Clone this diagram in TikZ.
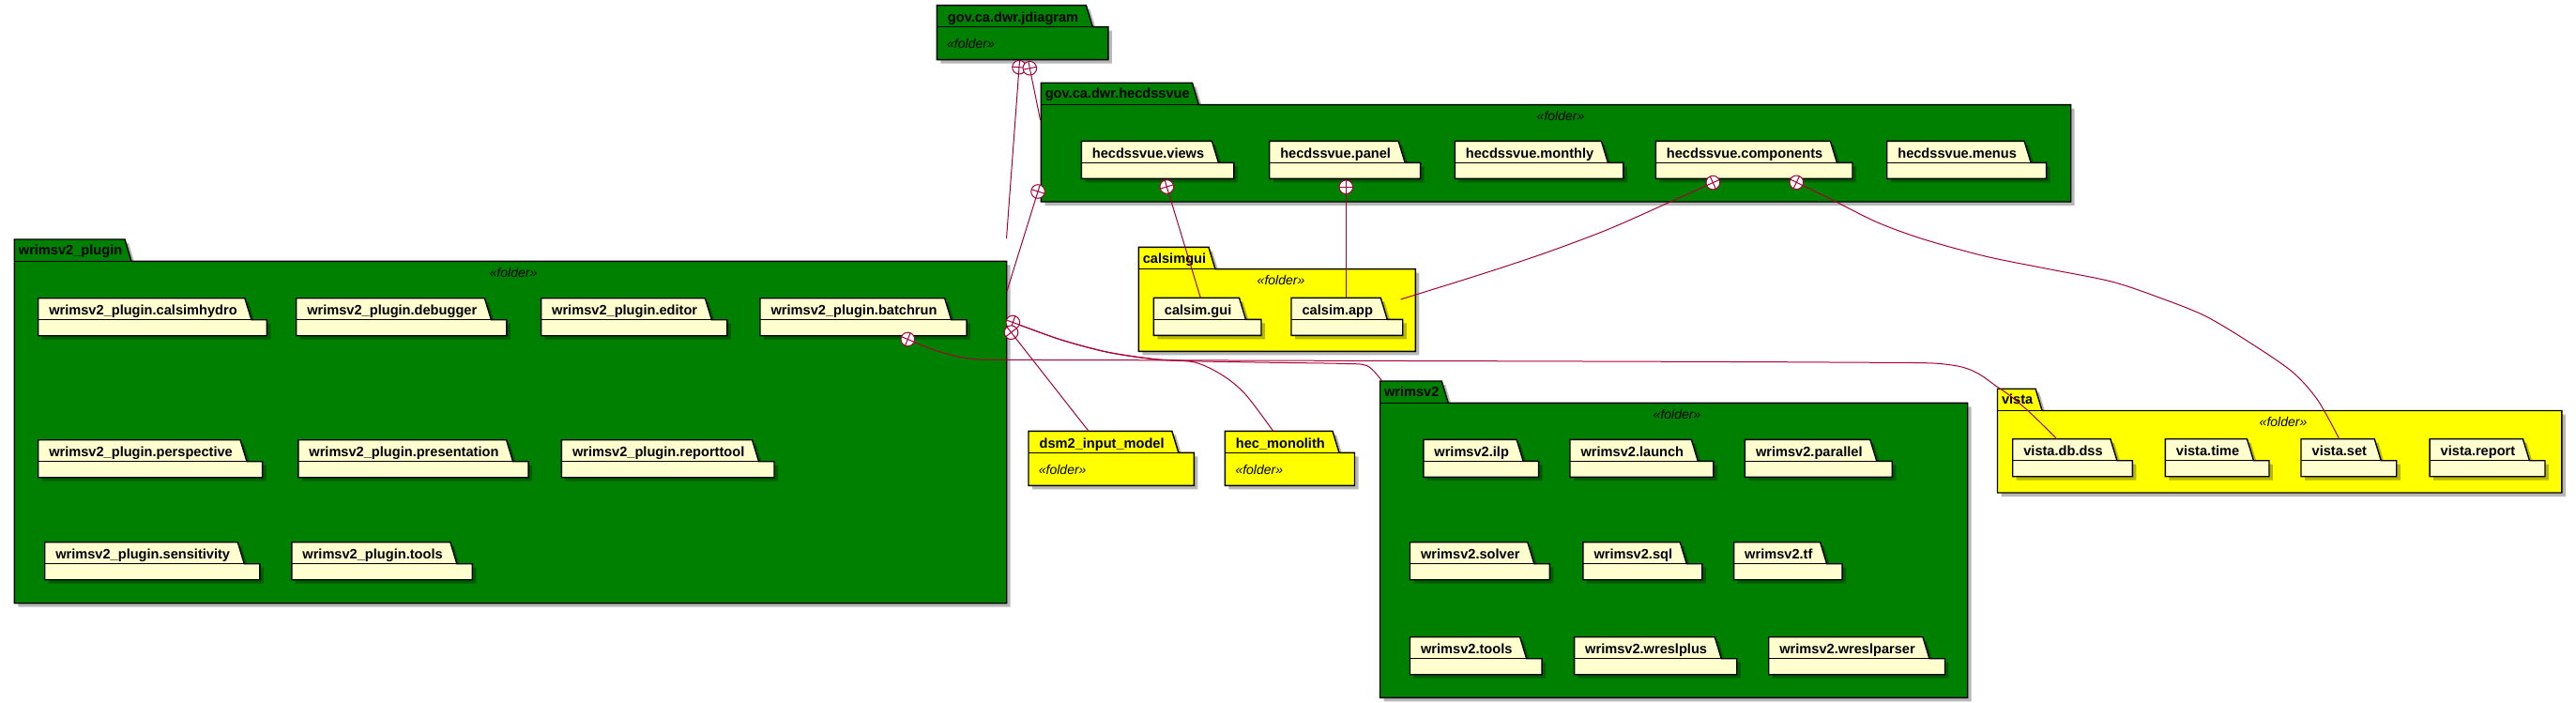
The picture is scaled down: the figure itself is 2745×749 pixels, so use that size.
\documentclass[tikz,border=0pt]{standalone}
\usepackage{fontspec}
\setmainfont{Liberation Sans}
\usetikzlibrary{calc}
\definecolor{pgreen}{HTML}{008000}
\definecolor{pyellow}{HTML}{FFFF00}
\definecolor{pinner}{HTML}{FEFECE}
\definecolor{crim}{HTML}{A80036}
\newlength\pkgw
\newcommand\pkgfont{\fontsize{14.6}{17}\selectfont\bfseries}
\newcommand\stfont{\fontsize{14}{16}\selectfont\itshape}
\newcommand\measurepkg[1]{%
  \pgfinterruptpicture\settowidth\pkgw{\normalfont\pkgfont #1}\global\pkgw=\pkgw\endpgfinterruptpicture}
\tikzset{
  pkgline/.style={draw=black, line width=1.4pt, line join=miter},
  pkgshadow/.style={fill=black, opacity=0.28},
  pkgtxt/.style={inner sep=0pt, font=\pkgfont, text=black},
  sttxt/.style={inner sep=0pt, font=\stfont, text=black},
  conn/.style={draw=crim, line width=1pt},
  pbox/.style={inner sep=0pt, outer sep=0pt, draw=none, anchor=north west},
}
% #1 x, #2 tab top, #3 tab right, #4 tab height, #5 right, #6 bottom, #7 fill
\newcommand\pkgshape[7]{%
  \fill[pkgshadow] (#1+4,#2+4) -- (#3+4,#2+4) -- (#3+11,#2+#4+4) -- (#5+4,#2+#4+4) -- (#5+4,#6+4) -- (#1+4,#6+4) -- cycle;
  \draw[pkgline, fill=#7] (#1,#2) -- (#3,#2) -- (#3+7,#2+#4) -- (#5,#2+#4) -- (#5,#6) -- (#1,#6) -- cycle;
  \draw[pkgline] (#1,#2+#4) -- (#3+7,#2+#4);
}
% leaf package: #1 name, #2 x, #3 tab top, #4 extra height, #5 fill, #6 label
\newcommand\leafpkg[6]{%
  \measurepkg{#6}%
  \pgfmathsetmacro\tR{#2+19.8+\pkgw}%
  \pgfmathsetmacro\bR{\tR+23.5}%
  \pgfmathsetmacro\bB{#3+40+#4}%
  \pkgshape{#2}{#3}{\tR}{23}{\bR}{\bB}{#5}
  \node[pkgtxt, anchor=base west] (#1-t) at (#2+11.4,#3+17.8) {#6};
  \node[pbox, minimum width={(\bR-#2)*1pt}, minimum height={(\bB-#3)*1pt}] (#1) at (#2,#3) {};
}
% container package: #1 name, #2 x, #3 tab top, #4 right, #5 bottom, #6 fill, #7 label, #8 stereotype centre x
\newcommand\contpkg[8]{%
  \measurepkg{#7}%
  \pgfmathsetmacro\tR{#2+7.3+\pkgw}%
  \pkgshape{#2}{#3}{\tR}{23.3}{#4}{#5}{#6}
  \node[pkgtxt, anchor=base west] (#1-t) at (#2+4.3,#3+16.7) {#7};
  \node[sttxt, anchor=base] (#1-st) at (#8,#3+23.3+17) {«folder»};
  \node[pbox, minimum width={(#4-#2)*1pt}, minimum height={(#5-#3)*1pt}] (#1) at (#2,#3) {};
}
% nesting circle: #1 centre, #2 direction angle
\newcommand\pcirc[2]{%
  \draw[conn, fill=white] (#1) circle (7.3);
  \draw[conn] ($(#1)+(#2:7.3)$) -- ($(#1)+(#2+180:7.3)$);
  \draw[conn] ($(#1)+(#2+90:7.3)$) -- ($(#1)+(#2+270:7.3)$);
}
\begin{document}
\begin{tikzpicture}[x=1pt,y=-1pt]
\fill[white] (0,0) rectangle (2745,749);
\useasboundingbox (0,0) rectangle (2745,749);

% containers
\contpkg{hecdssvue}{1109.3}{88.3}{2206.7}{215}{pgreen}{gov.ca.dwr.hecdssvue}{1663}
\contpkg{plugin}{15.4}{255}{1072.7}{642.7}{pgreen}{wrimsv2\_plugin}{547}
\contpkg{calsimgui}{1213.3}{263.3}{1508.3}{374.3}{pyellow}{calsimgui}{1365}
\contpkg{wrimsv2}{1470.5}{406}{2096.7}{743.3}{pgreen}{wrimsv2}{1787}
\contpkg{vista}{2128.5}{414.2}{2729.8}{525}{pyellow}{vista}{2433}

% stand-alone folders
\leafpkg{jdiagram}{998.3}{5.7}{18}{pgreen}{gov.ca.dwr.jdiagram}
\node[sttxt, anchor=base west] (jdiagram-st) at (1009,51.5) {«folder»};
\leafpkg{dsm2}{1096}{459.3}{18}{pyellow}{dsm2\_input\_model}
\node[sttxt, anchor=base west] (dsm2-st) at (1106.7,505) {«folder»};
\leafpkg{hecmono}{1305.3}{459.3}{18}{pyellow}{hec\_monolith}
\node[sttxt, anchor=base west] (hecmono-st) at (1316.3,505) {«folder»};

% hecdssvue children
\leafpkg{views}{1152.3}{150.3}{0}{pinner}{hecdssvue.views}
\leafpkg{panel}{1352.7}{150.3}{0}{pinner}{hecdssvue.panel}
\leafpkg{monthly}{1550.3}{150.3}{0}{pinner}{hecdssvue.monthly}
\leafpkg{components}{1764.3}{150.3}{0}{pinner}{hecdssvue.components}
\leafpkg{menus}{2010.7}{150.3}{0}{pinner}{hecdssvue.menus}

% calsimgui children
\leafpkg{calgui}{1229.3}{317.3}{0}{pinner}{calsim.gui}
\leafpkg{calapp}{1376}{317.3}{0}{pinner}{calsim.app}

% wrimsv2_plugin children
\leafpkg{calsimhydro}{40.7}{317.7}{0}{pinner}{wrimsv2\_plugin.calsimhydro}
\leafpkg{debugger}{315.7}{317.7}{0}{pinner}{wrimsv2\_plugin.debugger}
\leafpkg{editor}{576.6}{317.7}{0}{pinner}{wrimsv2\_plugin.editor}
\leafpkg{batchrun}{810}{317.7}{0}{pinner}{wrimsv2\_plugin.batchrun}
\leafpkg{perspective}{40.7}{468.7}{0}{pinner}{wrimsv2\_plugin.perspective}
\leafpkg{presentation}{317.8}{468.7}{0}{pinner}{wrimsv2\_plugin.presentation}
\leafpkg{reporttool}{598.4}{468.7}{0}{pinner}{wrimsv2\_plugin.reporttool}
\leafpkg{sensitivity}{47.7}{577.7}{0}{pinner}{wrimsv2\_plugin.sensitivity}
\leafpkg{ptools}{310.8}{577.7}{0}{pinner}{wrimsv2\_plugin.tools}

% wrimsv2 children
\leafpkg{ilp}{1516.8}{468.3}{0}{pinner}{wrimsv2.ilp}
\leafpkg{launch}{1673}{468.3}{0}{pinner}{wrimsv2.launch}
\leafpkg{parallel}{1859.4}{468.3}{0}{pinner}{wrimsv2.parallel}
\leafpkg{solver}{1502.5}{577.7}{0}{pinner}{wrimsv2.solver}
\leafpkg{sql}{1686.9}{577.7}{0}{pinner}{wrimsv2.sql}
\leafpkg{tf}{1847.6}{577.7}{0}{pinner}{wrimsv2.tf}
\leafpkg{wtools}{1502.5}{678.7}{0}{pinner}{wrimsv2.tools}
\leafpkg{wreslplus}{1677.6}{678.7}{0}{pinner}{wrimsv2.wreslplus}
\leafpkg{wreslparser}{1884.7}{678.7}{0}{pinner}{wrimsv2.wreslparser}

% vista children
\leafpkg{dbdss}{2144.7}{467.7}{0}{pinner}{vista.db.dss}
\leafpkg{vtime}{2307.3}{467.7}{0}{pinner}{vista.time}
\leafpkg{vset}{2452}{467.7}{0}{pinner}{vista.set}
\leafpkg{vreport}{2589.1}{467.7}{0}{pinner}{vista.report}

% connector end points
\coordinate (jA) at (1086,71.7);      \coordinate (jAend) at (1072.5,254);
\coordinate (jB) at (1097.3,72.7);    \coordinate (jBend) at (1108.6,128);
\coordinate (hC) at (1106,204);       \coordinate (hCend) at (1072.7,311);
\coordinate (vC) at (1243.3,199);     \coordinate (vCend) at (1279.3,317.3);
\coordinate (pC) at (1434.3,199.3);   \coordinate (pCend) at (1434.3,317.3);
\coordinate (cC1) at (1825.3,194.6);  \coordinate (cC1end) at (1492.5,319);
\coordinate (cC2) at (1914.3,194.3);  \coordinate (cC2end) at (2492.7,467.7);
\coordinate (wP1) at (1079.3,343.5);  \coordinate (wP1a) at (1356.7,459.3);
\coordinate (wP1b) at (1472.7,406);
\coordinate (wP2) at (1077.5,354.2);  \coordinate (wP2end) at (1160,459.3);
\coordinate (bC) at (967.3,361.5);    \coordinate (bCend) at (2191.7,467.7);

% connectors
\draw[conn] (jA) -- (jAend);
\draw[conn] (jB) -- (jBend);
\draw[conn] (hC) -- (hCend);
\draw[conn] (vC) -- (vCend);
\draw[conn] (pC) -- (pCend);
\draw[conn] plot[smooth, tension=0.5] coordinates {(cC1) (1780,215) (1713.3,244.5) (1646.7,269.5) (1580,291.7) (cC1end)};
\draw[conn] plot[smooth, tension=0.5] coordinates {(cC2) (1950,211.7) (2000,236.7) (2050,255) (2116.7,273.3) (2183.3,286.7) (2250,300) (2300,316.7) (2350,336.7) (2400,366.7) (2443.3,396.7) (2470,426.7) (cC2end)};
\draw[conn] plot[smooth, tension=0.5] coordinates {(wP1) (1130,361.7) (1180,375) (1230,382.5) (1273,386) (1303,400) (1327,420) (wP1a)};
\draw[conn] plot[smooth, tension=0.5] coordinates {(wP1) (1130,361.9) (1180,375.3) (1230,382.8) (1273,384.8) (1350,386.2) (1430,387.4) (1457,389.8) (wP1b)};
\draw[conn] (wP2) -- (wP2end);
\draw[conn] plot[smooth, tension=0.5] coordinates {(bC) (996.7,373.3) (1030,381.7) (1072,383.3) (1310,384) (1950,386) (2083,389.5) (2130,413.3) (2160,436.7) (bCend)};

% nesting circles
\pcirc{jA}{94.2}
\pcirc{jB}{78.7}
\pcirc{hC}{107.5}
\pcirc{vC}{73.1}
\pcirc{pC}{90}
\pcirc{cC1}{155.7}
\pcirc{cC2}{26}
\pcirc{wP1}{20}
\pcirc{wP2}{52}
\pcirc{bC}{22.7}
\end{tikzpicture}
\end{document}
